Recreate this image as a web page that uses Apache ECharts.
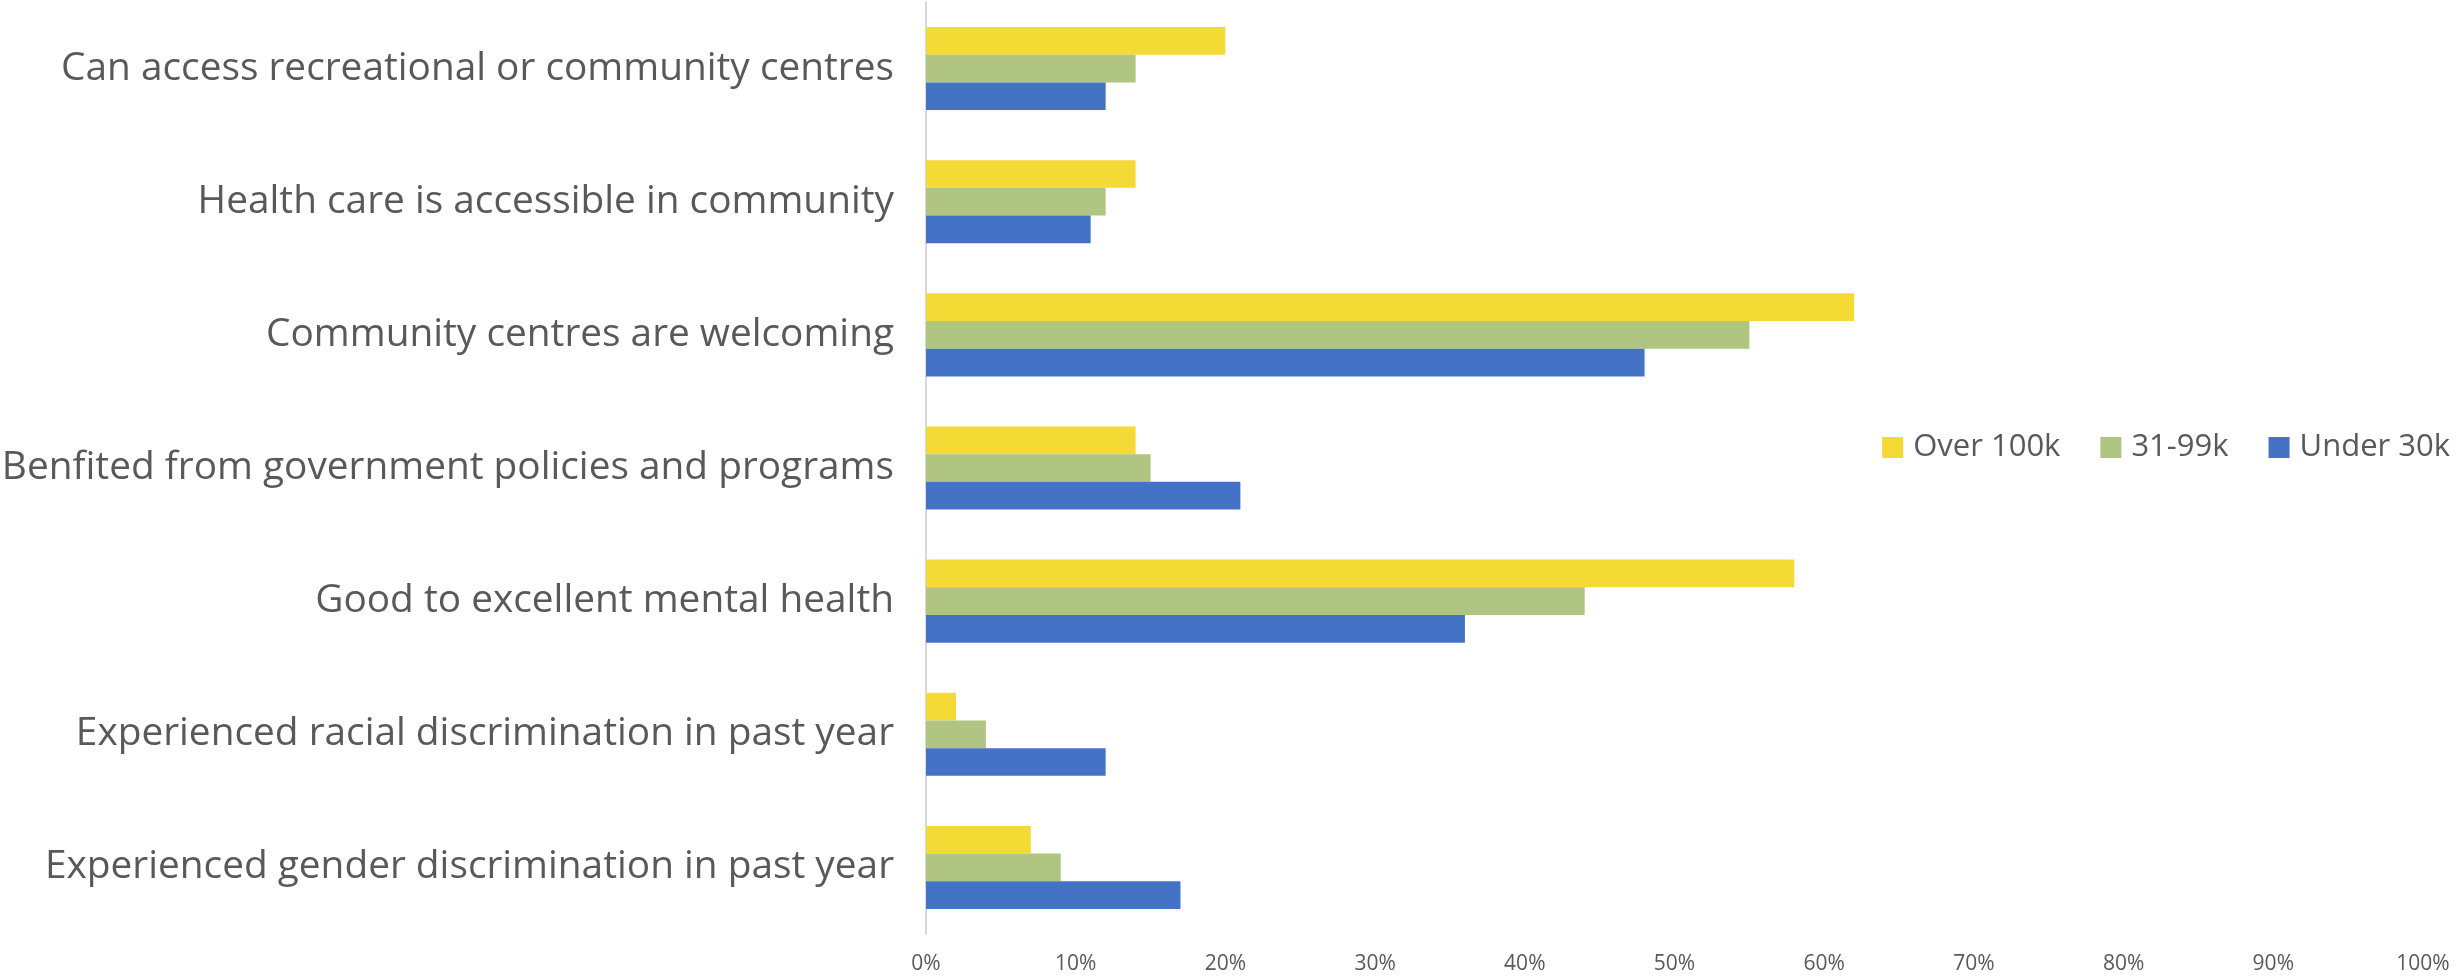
<!DOCTYPE html>
<html>
<head>
<meta charset="utf-8">
<script src="https://cdn.jsdelivr.net/npm/echarts@6/dist/echarts.min.js"></script>
<style>
html,body{margin:0;padding:0;background:#fff;}
#chart{width:2458px;height:980px;}
</style>
</head>
<body>
<div id="chart"></div>
<script>
const categories = [
  "Can access recreational or community centres",
  "Health care is accessible in community",
  "Community centres are welcoming",
  "Benfited from government policies and programs",
  "Good to excellent mental health",
  "Experienced racial discrimination in past year",
  "Experienced gender discrimination in past year"
];
const seriesNames = ["Over 100k", "31-99k", "Under 30k"];
const over100k = [20, 14, 62, 14, 58, 2, 7];
const mid31to99k = [14, 12, 55, 15, 44, 4, 9];
const under30k = [12, 11, 48, 21, 36, 12, 17];
const tickValues = [0, 10, 20, 30, 40, 50, 60, 70, 80, 90, 100];

const colors = ["#F3DA35", "#AFC581", "#4472C4"];
const seriesData = [over100k, mid31to99k, under30k];

const chart = echarts.init(document.getElementById('chart'), null, {renderer: 'canvas'});
chart.setOption({
  animation: false,
  backgroundColor: '#ffffff',
  color: colors,
  legend: {
    data: seriesNames,
    right: 3,
    top: 427,
    icon: 'rect',
    itemWidth: 21,
    itemHeight: 21,
    itemGap: 40,
    textStyle: {
      color: '#595959',
      fontFamily: 'Open Sans',
      fontSize: 31,
      padding: [0, 0, 0, 5]
    }
  },
  grid: {
    left: 926,
    right: 35,
    top: 2,
    bottom: 46,
    containLabel: false,
    outerBoundsMode: 'none'
  },
  xAxis: {
    type: 'value',
    min: tickValues[0],
    max: tickValues[tickValues.length - 1],
    interval: 10,
    axisLine: {show: false},
    axisTick: {show: false},
    splitLine: {show: false},
    axisLabel: {
      formatter: '{value}%',
      color: '#595959',
      fontFamily: 'Open Sans',
      fontSize: 21,
      margin: 20
    }
  },
  yAxis: {
    type: 'category',
    data: categories,
    inverse: true,
    axisLine: {show: true, lineStyle: {color: '#d9d9d9', width: 2}},
    axisTick: {show: false},
    splitLine: {show: false},
    axisLabel: {
      color: '#595959',
      fontFamily: 'Open Sans',
      fontSize: 38.8,
      margin: 32
    }
  },
  series: seriesNames.map((name, i) => ({
    name: name,
    type: 'bar',
    data: seriesData[i],
    barGap: '0%',
    barCategoryGap: '37.6%',
    itemStyle: {color: colors[i]}
  }))
});
</script>
</body>
</html>
